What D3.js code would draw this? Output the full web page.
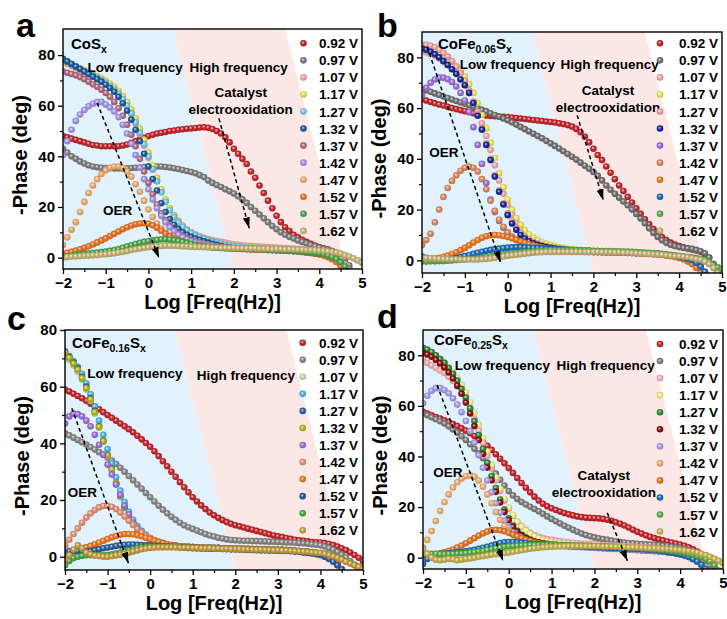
<!DOCTYPE html>
<html>
<head>
<meta charset="utf-8">
<script src="https://cdn.jsdelivr.net/npm/d3@7"></script>
<style>
  body { margin: 0; background: #fff; }
  text { font-family: Arial, "Liberation Sans", sans-serif; font-weight: bold; fill: #000; }
</style>
</head>
<body>
<svg id="fig" width="727" height="619"></svg>
<script>
// log10 of frequency (Hz) for every measured point, 10 points per decade
var logFreq = [-2,-1.9,-1.8,-1.7,-1.6,-1.5,-1.4,-1.3,-1.2,-1.1,
  -1,-0.9,-0.8,-0.7,-0.6,-0.5,-0.4,-0.3,-0.2,-0.1,
  0,0.1,0.2,0.3,0.4,0.5,0.6,0.7,0.8,0.9,
  1,1.1,1.2,1.3,1.4,1.5,1.6,1.7,1.8,1.9,
  2,2.1,2.2,2.3,2.4,2.5,2.6,2.7,2.8,2.9,
  3,3.1,3.2,3.3,3.4,3.5,3.6,3.7,3.8,3.9,
  4,4.1,4.2,4.3,4.4,4.5,4.6,4.7,4.8,4.9,5];

var voltages = ["0.92 V","0.97 V","1.07 V","1.17 V","1.27 V","1.32 V",
  "1.37 V","1.42 V","1.47 V","1.52 V","1.57 V","1.62 V"];

var colorsA = ["#c8262c","#808080","#f7a7ab","#e8e33c","#79c8f2","#1d5d9c",
  "#b56b83","#a596e8","#f2ad6c","#ee7423","#4aa84a","#c9b775"];
var colorsB = ["#c8262c","#737373","#f7a7ab","#eeea50","#f0a2a2","#1a2a9a",
  "#a070dd","#e08a5e","#f27a20","#1f6fbf","#5ab048","#c9b47a"];
var colorsC = ["#c8262c","#8a8a8a","#b6e2a0","#4cb7f0","#2e65a8","#b8b818",
  "#a070dd","#e89070","#f27a20","#2e5f9e","#4ea646","#c8a040"];
var colorsD = ["#c8262c","#808080","#f7b2b6","#f6f08a","#2e8b3e","#8c1010",
  "#a79cf0","#f2b070","#e67828","#1f6fbf","#5ab048","#c9b455"];

// -Phase (deg), one row per voltage, same order as voltages
// (a) CoSx
var phaseA = [
  [48,47.5,47,46.5,46,45.5,45,44.5,44.3,44, 44,44,44,44,44.3,44.7,45.3,46,46.7,47.3,
   48,48.5,49,49.3,49.6,50,50.2,50.5,50.7,50.9, 51,51.2,51.4,51.5,51.3,50.8,50,49,47.5,45.5,
   43,41,39,37,34,31.5,28.5,25.5,22.5,19.5, 16.5,14,12,10.5,9,8,7,6.2,5.5,4.8,
   4.2,3.7,3.2,2.6,1.8,0.8,-1,-4,-8],
  [43,41.5,40,39,38,37.2,36.5,36,35.7,35.5, 35.4,35.3,35.2,35.2,35.2,35.3,35.4,35.5,35.6,35.8,
   36,36,36,36,35.8,35.6,35.3,35,34.6,34.2, 33.8,33.3,32.6,31.8,30.5,29.5,28.7,27.9,27,26.2,
   25.3,24.2,23,21.6,20,18.5,17,15.5,14,12.5, 11.2,10,9,8.2,7.5,6.8,6.2,5.6,5,4.5,
   4,3.6,3.2,2.6,1.8,0.8,-0.5,-3,-7],
  [77.5,76.6,75.7,74.8,74,73.2,72.4,71.6,70.8,69.8, 68.8,67.6,66.2,64.5,62.4,59.8,56.7,53,48.7,44.2,
   39.4,34.7,30.2,26.2,22.6,19.4,16.7,14.5,12.7,11.2, 10,9.1,8.4,7.8,7.3,6.9,6.5,6.2,5.9,5.6,
   5.3,5.1,4.9,4.7,4.6,4.5,4.4,4.3,4.2,4.1, 4,3.9,3.8,3.7,3.6,3.5,3.3,3.2,3,2.8,
   2.5,2.2,1.8,1.2,0.4,-0.8,-2.6,-5,-8],
  [78,77.2,76.4,75.6,74.8,74,73.2,72.4,71.6,70.8, 69.8,68.7,67.4,65.8,63.8,61.4,58.5,55,51,46.5,
   41.5,36.5,31.5,27,23,19.5,16.6,14.2,12.4,11, 9.9,9,8.2,7.6,7,6.5,6.1,5.7,5.4,5.1,
   4.8,4.6,4.4,4.2,4.1,4,3.9,3.8,3.7,3.6, 3.5,3.4,3.3,3.2,3.1,3,2.9,2.7,2.5,2.3,
   2.1,1.8,1.4,0.8,0,-1.2,-3,-5.5,-9],
  [78.3,77.4,76.5,75.6,74.7,73.8,72.9,72,71.1,70.1, 69,67.8,66.4,64.7,62.6,60,57,53.4,49.3,44.8,
   40,35,30.2,25.8,22,18.7,16,13.8,12.1,10.8, 9.7,8.8,8,7.4,6.8,6.3,5.9,5.5,5.2,4.9,
   4.6,4.4,4.2,4,3.9,3.8,3.7,3.6,3.5,3.4, 3.3,3.2,3.1,3,2.9,2.8,2.6,2.4,2.2,2,
   1.8,1.5,1.1,0.5,-0.3,-1.5,-3.2,-5.7,-9],
  [78.5,77.5,76.5,75.5,74.5,73.5,72.5,71.5,70.5,69.5, 68.3,67,65.5,63.5,61,58,54.5,50.5,46,41,
   36,31,26.5,21.5,18,15.2,13,11.3,10,9, 8.2,7.5,7,6.4,5.9,5.5,5.1,4.7,4.3,4,
   3.8,3.6,3.5,3.4,3.3,3.2,3.1,3.1,3,3, 2.9,2.9,2.8,2.7,2.6,2.5,2.3,2.1,1.9,1.7,
   1.5,1.2,0.7,0,-1,-2.5,-4.5,-7],
  [73.5,73,72.5,72,71.3,70.5,69.5,68.5,67.5,66.3, 65,63.5,61.5,59,56,52.5,48.5,44,39,34,
   29.5,25,21,17.5,14.8,12.5,10.8,9.5,8.5,7.7, 7,6.4,5.9,5.5,5.1,4.8,4.5,4.3,4.1,3.9,
   3.7,3.6,3.5,3.4,3.3,3.2,3.1,3.1,3,3, 2.9,2.8,2.7,2.6,2.5,2.4,2.2,2,1.8,1.6,
   1.4,1.1,0.6,-0.1,-1.1,-2.6,-4.6,-7],
  [40.5,46,50.5,54,56.5,58.3,59.8,60.8,61.4,61.5, 60.5,59.3,57.7,55.5,52.5,49,45,40.5,35.5,31,
   27,23,19.5,16.5,14,12,10.4,9.1,8,7.2, 6.5,6,5.6,5.2,4.9,4.6,4.4,4.2,4,3.9,
   3.8,3.7,3.5,3.4,3.3,3.2,3.1,3,3,2.9, 2.9,2.8,2.7,2.6,2.5,2.4,2.2,2,1.8,1.6,
   1.4,1.1,0.6,-0.1,-1.1,-2.6,-4.6,-7],
  [5,8,11,14,18,22,25.5,28.5,31,33, 34.5,35.5,36,36,35.5,34,32,29,26,22.5,
   19,16,13.5,11.5,9.8,8.5,7.5,6.7,6.1,5.6, 5.2,4.9,4.6,4.4,4.2,4,3.9,3.8,3.7,3.6,
   3.5,3.4,3.4,3.3,3.3,3.2,3.2,3.1,3.1,3, 3,2.9,2.8,2.7,2.6,2.5,2.3,2.1,1.9,1.7,
   1.5,1.2,0.8,0.2,-0.7,-2,-3.8,-6.2],
  [1.5,1.9,2.3,2.8,3.3,3.9,4.5,5.2,6,6.8, 7.6,8.5,9.4,10.3,11.2,12,12.7,13.2,13.5,13.6,
   13.4,12.8,11.8,10.6,9.5,8.5,7.6,6.9,6.3,5.8, 5.4,5,4.7,4.5,4.3,4.1,4,3.9,3.8,3.7,
   3.6,3.5,3.4,3.4,3.3,3.3,3.2,3.2,3.1,3.1, 3,2.9,2.8,2.7,2.6,2.5,2.3,2.1,1.8,1.5,
   1.2,0.8,0.2,-0.6,-1.7,-3.2,-5.2,-8],
  [0.5,0.6,0.8,1,1.2,1.4,1.6,1.8,2,2.2, 2.4,2.7,3,3.4,3.9,4.4,4.9,5.4,5.8,6.2,
   6.5,6.8,7,7.2,7.2,7.1,6.9,6.6,6.2,5.8, 5.4,5,4.7,4.4,4.2,4,3.9,3.8,3.7,3.6,
   3.6,3.5,3.5,3.4,3.4,3.3,3.3,3.2,3.1,3.1, 3,2.9,2.8,2.7,2.6,2.5,2.4,2.2,2,1.8,
   1.6,1.3,0.9,0.3,-0.5,-1.8,-3.5,-6],
  [0,0.2,0.4,0.5,0.6,0.7,0.8,0.9,1,1.2, 1.3,1.5,1.7,2,2.3,2.6,3,3.3,3.6,3.9,
   4.1,4.3,4.5,4.6,4.7,4.7,4.7,4.6,4.5,4.4, 4.3,4.2,4.2,4.1,4.1,4,4,3.9,3.9,3.8,
   3.8,3.7,3.7,3.6,3.6,3.6,3.5,3.5,3.5,3.4, 3.4,3.4,3.3,3.3,3.2,3.2,3.1,3,3,2.9,
   2.8,2.7,2.5,2.3,2,1.6,1,0.4,-0.3,-1.1,-2]
];

// (b) CoFe0.06Sx
var phaseB = [
  [63.5,63,62.4,61.9,61.4,61,60.5,60,59.6,59.2, 58.8,58.4,58,57.7,57.4,57.1,56.9,56.8,56.7,56.6,
   56.5,56.3,56.1,55.9,55.7,55.5,55.3,55.1,54.9,54.7, 54.5,54.3,54,53.7,53.3,52.7,51.8,50.5,48.7,46.5,
   44,41.5,39.5,37,34.5,32,29.5,27.3,25,22.8, 20.5,18.3,16.2,14.2,12.3,10.7,9.2,8,7,6.2,
   5.6,5.1,4.7,4.3,3.9,3.4,2.4,1,-1.5,-5,-9],
  [67.5,67,66.4,65.8,65.2,64.6,64,63.4,62.8,62.2, 61.7,61.1,60.5,59.9,59.3,58.7,58,57.3,56.6,55.9,
   55.2,54.4,53.5,52.6,51.7,50.8,49.9,49,48.1,47.1, 46.1,45.1,44.1,43,41.9,40.8,39.7,38.5,37.3,36.1,
   34.8,33.3,31.5,29.5,27.8,26.2,24.7,23.2,21.7,20, 18.3,16.5,14.6,12.6,10.8,9.2,7.9,6.9,6.1,5.6,
   5.2,4.9,4.7,4.5,4.1,3.6,2.8,1.2,-1.5,-5,-9],
  [82.5,82,81.4,80.6,79.6,78.4,77,75.4,73.6,71.5, 69,66,62.5,58.5,54,49,43.5,37.5,31.5,26.3,
   21.8,18,15,12.5,10.6,9.1,8,7.1,6.4,5.9, 5.5,5.1,4.8,4.5,4.3,4.1,3.9,3.8,3.7,3.6,
   3.5,3.4,3.4,3.3,3.3,3.2,3.2,3.1,3.1,3, 3,2.9,2.8,2.7,2.6,2.5,2.3,2.1,1.9,1.7,
   1.4,1.1,0.6,-0.1,-1.1,-2.6,-4.6,-7],
  [84,83.6,83.2,82.6,81.8,80.8,79.6,78.2,76.6,74.8, 72.5,69.5,66,62,57.3,52,46.3,40.3,34.3,28.8,
   24,20,16.7,14,11.9,10.2,8.9,7.9,7.1,6.5, 6,5.5,5.1,4.8,4.5,4.3,4.1,4,3.9,3.8,
   3.7,3.6,3.5,3.5,3.4,3.4,3.3,3.3,3.2,3.2, 3.1,3,2.9,2.8,2.7,2.6,2.4,2.2,2,1.8,
   1.5,1.2,0.7,0,-1,-2.5,-4.5,-7],
  [85,85,84.6,84,83,81.8,80.3,78.5,76.3,73.8, 70.8,67,62.5,57.5,52,46,40,33.5,27.5,22.5,
   18.5,15.3,12.8,10.9,9.4,8.2,7.3,6.6,6,5.5, 5.1,4.8,4.5,4.3,4.1,3.9,3.8,3.7,3.6,3.5,
   3.4,3.4,3.3,3.3,3.2,3.2,3.1,3.1,3,3, 2.9,2.9,2.8,2.7,2.6,2.5,2.3,2.1,1.9,1.7,
   1.4,1.1,0.6,-0.1,-1.1,-2.6,-4.6,-7],
  [83.5,83,82.2,81.2,80,78.5,77,75.3,73.5,71.3, 69,66,62,57,51.5,45.5,39.5,33,27,22,
   17.8,14.5,12,10,8.6,7.5,6.7,6.1,5.6,5.2, 4.9,4.6,4.4,4.2,4,3.9,3.8,3.7,3.6,3.5,
   3.4,3.4,3.3,3.3,3.2,3.2,3.1,3.1,3,3, 2.9,2.9,2.8,2.7,2.6,2.5,2.3,2.1,1.9,1.7,
   1.4,1.1,0.6,-0.1,-1.1,-2.6,-4.6,-7],
  [65,68,70,71.3,72,72,71.4,70.3,68.5,66, 63,58.5,52.5,45.5,38,30.5,24,19,15.5,12.8,
   10.8,9.3,8.1,7.2,6.5,6,5.5,5.1,4.8,4.5, 4.3,4.1,3.9,3.8,3.7,3.6,3.5,3.4,3.3,3.3,
   3.2,3.2,3.1,3.1,3.1,3,3,3,2.9,2.9, 2.8,2.8,2.7,2.6,2.5,2.4,2.2,2,1.8,1.6,
   1.3,1,0.5,-0.2,-1.2,-2.7,-4.7,-7],
  [6,8,10.5,15,20,25,28.5,31.3,33.5,35.3, 36.5,37,36.5,35,32,28,23.5,19.5,16,13.2,
   11,9.3,8,7,6.2,5.6,5.1,4.7,4.4,4.2, 4,3.9,3.8,3.7,3.6,3.5,3.5,3.4,3.4,3.3,
   3.3,3.2,3.2,3.1,3.1,3.1,3,3,2.9,2.9, 2.8,2.8,2.7,2.6,2.5,2.4,2.2,2,1.8,1.6,
   1.3,1,0.5,-0.2,-1.2,-2.7,-4.7,-7],
  [0,0.2,0.4,0.7,1,1.4,1.9,2.5,3.2,4, 4.9,5.9,7,8,8.9,9.5,9.9,10,9.9,9.6,
   9.2,8.7,8.1,7.5,6.9,6.3,5.8,5.4,5,4.7, 4.4,4.2,4,3.9,3.8,3.7,3.6,3.5,3.5,3.4,
   3.4,3.3,3.3,3.2,3.2,3.1,3.1,3,3,2.9, 2.8,2.7,2.6,2.5,2.4,2.3,2.1,1.9,1.6,1.3,
   0.9,0.4,-0.5,-1.5,-3,-5,-8],
  [1.5,1,0.5,0.2,0,0,0.2,0.5,0.9,1.3, 1.7,2.1,2.6,3,3.4,3.8,4.1,4.4,4.6,4.8,
   5,5.1,5.2,5.2,5.1,5,4.9,4.8,4.7,4.6, 4.5,4.4,4.3,4.2,4.1,4,3.9,3.8,3.7,3.7,
   3.6,3.6,3.5,3.5,3.4,3.4,3.3,3.3,3.2,3.2, 3.1,3,2.9,2.8,2.7,2.6,2.4,2.2,2,1.8,
   1.5,1.1,0.6,0,-1,-2.5,-4.5,-7],
  [-0.5,-0.5,-0.4,-0.4,-0.3,-0.3,-0.2,-0.1,0.1,0.2, 0.3,0.5,0.6,0.8,1,1.2,1.5,1.8,2,2.3,
   2.5,2.7,2.9,3.1,3.3,3.5,3.6,3.7,3.8,3.9, 4,4,4,4,4,4,4,3.9,3.9,3.9,
   3.8,3.8,3.7,3.7,3.7,3.6,3.6,3.5,3.5,3.4, 3.3,3.2,3.1,3,2.9,2.8,2.6,2.4,2.2,2,
   1.8,1.6,1.4,1.2,0.9,0.6,0.2,-0.6,-1.8,-2.8,-3.5],
  [1,0.9,0.8,0.7,0.6,0.5,0.5,0.4,0.4,0.3, 0.3,0.3,0.3,0.3,0.4,0.5,0.7,1,1.3,1.5,
   1.8,2,2.2,2.4,2.6,2.8,3,3.1,3.2,3.3, 3.3,3.3,3.3,3.3,3.3,3.3,3.3,3.3,3.3,3.3,
   3.3,3.3,3.2,3.2,3.2,3.1,3.1,3,3,2.9, 2.8,2.7,2.6,2.5,2.4,2.3,2.2,2,1.8,1.7,
   1.6,1.4,1.2,0.9,0.5,0.2,-0.5,-1.5,-3,-5]
];

// (c) CoFe0.16Sx
var phaseC = [
  [59,58.3,57.5,56.7,55.9,55,54,53,52,51, 50,49,48,47,46,45,43.9,42.7,41.4,40.1,
   38.8,37.2,35.5,33.7,31.9,30,28.2,26.3,24.5,22.7, 21,19.5,18.1,16.8,15.6,14.6,13.7,12.9,12.2,11.6,
   11.1,10.7,10.3,9.9,9.5,9.1,8.7,8.3,7.9,7.5, 7.2,6.9,6.6,6.3,6,5.8,5.6,5.4,5.2,5.1,
   5,4.8,4.5,4.1,3.6,3,2.3,1.5,0.6,-0.4,-1.5],
  [43.5,42.8,42,41.2,40.4,39.6,38.7,37.8,36.9,36, 35,33.9,32.7,31.4,30,28.5,27,25.5,24,22.5,
   21,19.5,18,16.6,15.3,14.1,13,12,11.1,10.4, 9.8,9.2,8.6,8,7.5,7.1,6.7,6.4,6.1,5.9,
   5.8,5.7,5.6,5.6,5.5,5.5,5.4,5.4,5.3,5.3, 5.2,5.1,5,5,4.9,4.8,4.7,4.6,4.4,4.2,
   4,3.6,3.1,2.5,1.7,0.8,-0.3,-1.5,-2.8,-4.2,-5.5],
  [71.5,69.5,67.5,65.3,62.5,59,55,50.5,45.5,40.5, 35.5,30.5,25.5,21,17.2,14,11.6,9.7,8.2,7,
   6.1,5.4,4.9,4.5,4.2,3.9,3.7,3.6,3.5,3.4, 3.3,3.2,3.2,3.1,3.1,3,3,2.9,2.9,2.9,
   2.8,2.8,2.7,2.7,2.6,2.6,2.5,2.5,2.4,2.4, 2.3,2.3,2.2,2.1,2,1.9,1.7,1.5,1.3,1.1,
   0.8,0.3,-0.4,-1.4,-2.8,-4.5,-7],
  [72.4,70.8,69,67,64.5,61.2,57.3,53,48,43, 38,33,28,23.3,19.3,15.8,13,10.8,9.1,7.7,
   6.6,5.8,5.2,4.8,4.4,4.1,3.9,3.7,3.6,3.5, 3.4,3.3,3.3,3.2,3.2,3.1,3.1,3,3,3,
   2.9,2.9,2.8,2.8,2.7,2.7,2.6,2.6,2.5,2.5, 2.4,2.4,2.3,2.2,2.1,2,1.8,1.6,1.4,1.2,
   0.9,0.4,-0.3,-1.3,-2.7,-4.5,-7],
  [72.4,70.5,68.5,66.5,63.5,60,56,51.5,46,41, 36,31,26,21.5,17.5,14.3,11.8,9.8,8.3,7.1,
   6.2,5.5,5,4.6,4.3,4,3.8,3.7,3.6,3.5, 3.4,3.3,3.3,3.2,3.2,3.1,3.1,3,3,3,
   2.9,2.9,2.8,2.8,2.7,2.7,2.6,2.6,2.5,2.5, 2.4,2.4,2.3,2.2,2.1,2,1.8,1.6,1.4,1.2,
   0.9,0.4,-0.3,-1.3,-2.7,-4.5,-7],
  [72,70.2,68.2,66,63,59.5,55.5,51,45.8,40.8, 35.8,30.8,26,21.5,17.6,14.4,11.9,9.9,8.4,7.2,
   6.3,5.6,5.1,4.7,4.3,4,3.8,3.7,3.6,3.5, 3.4,3.3,3.3,3.2,3.2,3.1,3.1,3,3,3,
   2.9,2.9,2.8,2.8,2.7,2.7,2.6,2.6,2.5,2.5, 2.4,2.4,2.3,2.2,2.1,2,1.8,1.6,1.4,1.2,
   0.9,0.4,-0.3,-1.3,-2.7,-4.5,-7],
  [47,49.5,50.5,50.3,49.5,48,46,43,39.5,36, 32.5,29,25.5,21.8,18,15,12,9.8,8,6.7,
   5.7,5,4.5,4.1,3.8,3.6,3.4,3.3,3.2,3.1, 3,3,2.9,2.9,2.9,2.8,2.8,2.8,2.7,2.7,
   2.7,2.6,2.6,2.6,2.5,2.5,2.5,2.4,2.4,2.3, 2.3,2.2,2.2,2.1,2,1.9,1.7,1.5,1.3,1.1,
   0.8,0.3,-0.4,-1.4,-2.8,-4.5,-7],
  [4,6,8,10,12,13.8,15.3,16.5,17.4,17.9, 18,17.6,16.8,15.6,14.2,12.7,11.2,9.8,8.6,7.5,
   6.6,5.9,5.3,4.8,4.4,4.1,3.9,3.7,3.6,3.5, 3.4,3.3,3.2,3.2,3.1,3.1,3,3,2.9,2.9,
   2.8,2.8,2.7,2.7,2.6,2.6,2.5,2.5,2.4,2.4, 2.4,2.3,2.3,2.2,2.1,2,1.8,1.6,1.4,1.2,
   0.9,0.4,-0.3,-1.3,-2.7,-4.5,-7],
  [1,1.4,1.8,2.3,2.8,3.3,3.8,4.4,5,5.6, 6.2,6.8,7.3,7.7,8,8,7.9,7.6,7.2,6.7,
   6.2,5.7,5.2,4.8,4.4,4.1,3.9,3.7,3.5,3.4, 3.3,3.2,3.1,3,2.9,2.9,2.8,2.7,2.7,2.6,
   2.6,2.5,2.5,2.4,2.4,2.3,2.3,2.3,2.2,2.2, 2.2,2.1,2.1,2,1.9,1.8,1.6,1.4,1.2,1,
   0.6,0.1,-0.5,-1.5,-3,-5,-7.5],
  [1.5,2,2.2,2,1.8,1.8,2,2.3,2.6,3, 3.2,3.5,3.8,4,4.2,4.3,4.3,4.2,4.1,4,
   3.9,3.8,3.8,3.7,3.7,3.6,3.5,3.4,3.3,3.2, 3.2,3.1,3,3,2.9,2.9,2.8,2.8,2.7,2.7,
   2.6,2.6,2.5,2.5,2.4,2.4,2.3,2.3,2.2,2.2, 2.1,2,2,1.9,1.8,1.7,1.5,1.3,1.1,0.9,
   0.6,0,-0.8,-1.8,-3,-4.5,-6.5],
  [-3,-1.5,-0.5,0,0.3,0.5,0.5,0.5,0.5,0.5, 0.6,0.8,1.1,1.5,1.9,2.3,2.7,3,3.3,3.5,
   3.6,3.6,3.6,3.6,3.5,3.5,3.4,3.3,3.2,3.1, 3.1,3,3,2.9,2.9,2.8,2.8,2.7,2.7,2.6,
   2.6,2.6,2.5,2.5,2.5,2.5,2.4,2.4,2.4,2.3, 2.3,2.3,2.2,2.2,2.1,2,1.9,1.8,1.6,1.5,
   1.3,1,0.7,0.2,-0.3,-0.9,-1.7,-2.3,-3,-3.5,-4],
  [-1,0.5,2.5,4,3,1.5,0.8,0.4,0.2,0, 0,0.2,0.4,0.7,1,1.4,1.8,2.2,2.6,2.9,
   3.1,3.2,3.3,3.3,3.3,3.3,3.3,3.2,3.2,3.2, 3.1,3.1,3,3,3,2.9,2.9,2.8,2.8,2.7,
   2.7,2.7,2.6,2.6,2.5,2.5,2.5,2.4,2.4,2.3, 2.3,2.2,2.2,2.1,2,1.9,1.8,1.7,1.5,1.4,
   1.3,1,0.6,0.1,-0.4,-1,-1.7,-2.4,-3,-3.6,-4.2]
];

// (d) CoFe0.25Sx
var phaseD = [
  [57.7,57,56.3,55.6,55,54.3,53.6,52.8,52,51.1, 50.2,49.2,48.1,46.9,45.6,44.2,42.6,40.9,39.1,37.3,
   35.4,33.5,31.5,29.5,27.6,25.8,24.1,22.6,21.3,20.3, 19.5,18.8,18.2,17.6,17.1,16.7,16.3,16,15.8,15.7,
   15.6,15.5,15.3,15,14.6,14,13.4,12.7,11.9,11, 10.2,9.5,8.8,8.2,7.7,7.2,6.8,6.4,6,5.6,
   5.2,4.7,4.1,3.3,2.4,1.3,0,-1.7,-4,-7],
  [57,56.3,55.5,54.7,53.9,53,51.9,50.7,49.4,48, 46.5,44.8,43,41.2,39.3,37.5,35.5,33.2,30.8,28.5,
   26.3,24.6,23.2,22,21,20.1,19.2,18.3,17.3,16.3, 15.3,14.4,13.5,12.6,11.8,11,10.2,9.5,8.9,8.4,
   8,7.6,7.3,7,6.7,6.4,6.2,6,5.8,5.7, 5.5,5.4,5.3,5.2,5.1,5,4.8,4.6,4.4,4.1,
   3.8,3.4,2.9,2.2,1.3,0.2,-1.2,-3,-5.5],
  [78,77,76,75,74,73,71.5,69.8,67.7,65.2, 62.3,58.8,54.8,50.2,45.3,40.2,35.2,30.5,26.3,22.5,
   19.3,16.6,14.3,12.5,11,9.8,8.9,8.2,7.7,7.3, 7,6.7,6.5,6.3,6.1,5.9,5.7,5.6,5.5,5.4,
   5.3,5.2,5.1,5,4.9,4.8,4.7,4.6,4.5,4.4, 4.3,4.2,4.1,4,3.9,3.7,3.5,3.3,3.1,2.9,
   2.6,2.2,1.6,0.8,-0.3,-1.8,-3.8,-6.5],
  [82,81.4,80.6,79.6,78.4,77,75.3,73.3,71,68.3, 65.2,61.5,57.2,52.5,47.3,42,36.8,31.8,27.3,23.3,
   19.8,16.8,14.3,12.3,10.7,9.4,8.4,7.6,7,6.5, 6.1,5.8,5.5,5.3,5.1,4.9,4.8,4.7,4.6,4.5,
   4.4,4.3,4.2,4.1,4,3.9,3.8,3.7,3.6,3.5, 3.4,3.3,3.2,3.1,3,2.9,2.7,2.5,2.3,2.1,
   1.8,1.4,0.8,0,-1.1,-2.6,-4.6,-7],
  [83,82.3,81.3,80,78.5,77,75,72.7,70,66.8, 63.3,59,54,48.5,43,37.5,32.3,27.5,23,19,
   15.5,12.7,10.6,9,7.9,7.1,6.5,6.1,5.8,5.5, 5.3,5.1,4.9,4.8,4.7,4.6,4.5,4.4,4.3,4.2,
   4.1,4,3.9,3.8,3.7,3.6,3.5,3.4,3.3,3.2, 3.1,3,2.9,2.8,2.7,2.6,2.4,2.2,2,1.8,
   1.5,1.1,0.5,-0.3,-1.4,-2.9,-4.9,-7.5],
  [81,80.3,79.4,78.2,76.8,75.2,73.2,70.8,68,64.8, 61.3,57,52,46.5,41,35.6,30.6,26,21.8,18,
   14.8,12.2,10.2,8.8,7.7,6.9,6.4,6,5.7,5.4, 5.2,5,4.8,4.7,4.6,4.5,4.4,4.3,4.2,4.1,
   4,3.9,3.8,3.7,3.6,3.5,3.4,3.3,3.2,3.1, 3,2.9,2.8,2.7,2.6,2.5,2.3,2.1,1.9,1.7,
   1.4,1,0.4,-0.4,-1.5,-3,-5,-7.5],
  [61,64,66,67,67,66.3,65,63,60.5,57.5, 54,50,45.5,40.5,35.5,30.5,25.8,21.5,17.8,14.6,
   12,10,8.5,7.4,6.6,6,5.6,5.3,5.1,4.9, 4.8,4.7,4.6,4.5,4.4,4.3,4.2,4.1,4,3.9,
   3.8,3.7,3.6,3.5,3.4,3.4,3.3,3.2,3.1,3, 2.9,2.8,2.7,2.6,2.5,2.4,2.2,2,1.8,1.6,
   1.3,0.9,0.3,-0.5,-1.6,-3.1,-5.1,-7.5],
  [4,7,10.5,14.5,18.5,22,25,27.7,29.8,31.3, 32.2,32.5,32,30.5,28,25,21.5,18,15,12.5,
   10.5,9,8,7.2,6.6,6.2,5.9,5.6,5.4,5.3, 5.2,5.1,5,4.9,4.8,4.8,4.7,4.7,4.6,4.6,
   4.5,4.5,4.4,4.4,4.3,4.2,4.1,4,3.9,3.8, 3.7,3.6,3.5,3.4,3.3,3.2,3,2.8,2.6,2.4,
   2.1,1.7,1.1,0.3,-0.8,-2.3,-4.3,-7],
  [1,1,1.2,1.4,1.7,2.1,2.6,3.2,4,4.8, 5.7,6.7,7.7,8.7,9.6,10.3,10.8,11,10.8,10.4,
   9.8,9.1,8.4,7.7,7.1,6.6,6.1,5.7,5.4,5.2, 5,4.9,4.8,4.7,4.6,4.6,4.5,4.4,4.4,4.3,
   4.3,4.2,4.1,4,3.9,3.9,3.8,3.7,3.6,3.6, 3.5,3.4,3.3,3.2,3,2.9,2.7,2.5,2.3,2,
   1.8,1.3,0.7,0,-1.1,-2.5,-4.5,-7],
  [-2.5,-0.5,1,1.3,1.5,1.6,1.7,1.9,2.1,2.3, 2.5,2.8,3.1,3.5,3.9,4.3,4.8,5.3,5.8,6.1,
   6.2,6.2,6.1,6,5.8,5.6,5.5,5.3,5.2,5.1, 5,4.9,4.8,4.7,4.6,4.5,4.4,4.4,4.3,4.2,
   4.2,4.1,4,3.9,3.8,3.8,3.7,3.6,3.5,3.5, 3.4,3.3,3.2,3.1,2.9,2.8,2.5,2.2,1.9,1.6,
   1.3,0.8,0.2,-0.6,-1.5,-2.8,-4.5,-6.5],
  [1.5,1.5,1.5,1.5,1.4,1.4,1.4,1.5,1.6,1.7, 1.8,2,2.2,2.4,2.6,3,3.3,3.7,4,4.3,
   4.5,4.6,4.7,4.8,4.9,5,5,5,5,5, 5,5,4.9,4.9,4.9,4.8,4.8,4.8,4.7,4.7,
   4.6,4.5,4.5,4.4,4.3,4.2,4.1,4,3.9,3.9, 3.8,3.7,3.6,3.5,3.3,3.2,3,2.8,2.6,2.4,
   2.2,1.9,1.5,1.2,0.7,0.2,-0.5,-1.5,-3,-5],
  [3.5,1.5,0,-0.8,-1,-0.8,-0.5,-0.6,-1,-0.8, -0.5,-0.3,0,0.3,0.6,0.9,1.2,1.4,1.6,1.8,
   2,2.3,2.6,2.9,3.2,3.5,3.7,3.9,4.1,4.2, 4.3,4.4,4.4,4.5,4.5,4.5,4.5,4.5,4.5,4.5,
   4.5,4.5,4.4,4.4,4.4,4.3,4.3,4.2,4.1,4.1, 4,3.9,3.8,3.7,3.7,3.6,3.5,3.4,3.3,3.1,
   3,2.8,2.6,2.3,2,1.5,1,0.3,-0.5,-1.3,-2.2]
];

var xTicks = [-2,-1,0,1,2,3,4,5];
var xMinor = [-1.5,-0.5,0.5,1.5,2.5,3.5,4.5];
var yTicks = [0,20,40,60,80];
var yMinor = [10,30,50,70];

// frequency regions drawn behind the data: [top-left x, top-right x, bottom-right x]
var lowBand = [0.57, 2.0];
var highBand = [0.57, 3.2, 4.63, 2.0];

// layout of the four panels
var panels = [
  { letter: "a", lx: 16, ly: 37, left: 63, top: 29, right: 362, bottom: 269, yDomain: [-4.5, 90.3],
    data: phaseA, colors: colorsA, title: [["CoS", 0], ["x", 1]], tx: 8, ty: 20,
    legX: 303.5, legTextX: 319, legY: 43.3,
    notes: [["Low frequency", -0.31, 73.4], ["High frequency", 2.11, 73.4],
            ["Catalyst", 2.16, 63.6], ["electrooxidation", 2.16, 56.9], ["OER", -0.72, 16.8]],
    arrows: [[-1.2, 61.1, 0.25, -0.2], [1.65, 55, 2.36, 11.6]] },
  { letter: "b", lx: 377, ly: 37, left: 422, top: 32, right: 722, bottom: 273, yDomain: [-5, 90],
    data: phaseB, colors: colorsB, title: [["CoFe", 0], ["0.06", 1], ["S", 0], ["x", 1]], tx: 16, ty: 17,
    legX: 660, legTextX: 679, legY: 43.3,
    notes: [["Low frequency", -0.01, 75.6], ["High frequency", 2.38, 75.6],
            ["Catalyst", 2.34, 65.1], ["electrooxidation", 2.34, 58.5], ["OER", -1.49, 40.8]],
    arrows: [[-1.88, 84.2, -0.17, -0.7], [1.62, 57.2, 2.23, 23.7]] },
  { letter: "c", lx: 7, ly: 330, left: 65, top: 330, right: 363, bottom: 570, yDomain: [-4.7, 80],
    data: phaseC, colors: colorsC, title: [["CoFe", 0], ["0.16", 1], ["S", 0], ["x", 1]], tx: 7, ty: 18,
    legX: 302.7, legTextX: 319, legY: 342.7,
    notes: [["Low frequency", -0.36, 63], ["High frequency", 2.25, 62.4], ["OER", -1.59, 21]],
    arrows: [[-1.84, 52.4, -0.51, -2.3]] },
  { letter: "d", lx: 377, ly: 328, left: 423, top: 330, right: 723, bottom: 569, yDomain: [-4.5, 90],
    data: phaseD, colors: colorsD, title: [["CoFe", 0], ["0.25", 1], ["S", 0], ["x", 1]], tx: 11, ty: 15,
    legX: 660, legTextX: 679, legY: 344,
    notes: [["Low frequency", -0.15, 74.3], ["High frequency", 2.26, 74.1],
            ["Catalyst", 2.22, 30.6], ["electrooxidation", 2.22, 23.9], ["OER", -1.42, 31.7]],
    arrows: [[-1.67, 68.2, -0.13, -1.3], [2.3, 17.7, 2.77, -1.3]] }
];

var svg = d3.select("#fig");
var defs = svg.append("defs");

defs.append("marker")
  .attr("id", "arrowHead")
  .attr("markerUnits", "userSpaceOnUse")
  .attr("markerWidth", 11).attr("markerHeight", 8)
  .attr("refX", 11).attr("refY", 4)
  .attr("orient", "auto")
  .append("path").attr("d", "M0,0.5 L11,4 L0,7.5 Z").attr("fill", "#000");

// shiny ball look for the markers
function ballGradient(id, color) {
  var g = defs.append("radialGradient").attr("id", id)
    .attr("cx", "50%").attr("cy", "50%").attr("r", "55%")
    .attr("fx", "40%").attr("fy", "35%");
  g.append("stop").attr("offset", "0%").attr("stop-color", d3.interpolateRgb(color, "#fff")(0.8));
  g.append("stop").attr("offset", "45%").attr("stop-color", color);
  g.append("stop").attr("offset", "100%").attr("stop-color", d3.color(color).darker(0.7));
}

var intFormat = d3.format("d");

panels.forEach(function(p, pi) {
  var x = d3.scaleLinear().domain([-2, 5]).range([p.left, p.right]);
  var y = d3.scaleLinear().domain(p.yDomain).range([p.bottom, p.top]);
  var yTop = p.yDomain[1], yBot = p.yDomain[0];

  var g = svg.append("g");
  var clipId = "clip" + pi;
  defs.append("clipPath").attr("id", clipId)
    .append("rect").attr("x", p.left).attr("y", p.top)
    .attr("width", p.right - p.left).attr("height", p.bottom - p.top);

  var plot = g.append("g").attr("clip-path", "url(#" + clipId + ")");

  // shaded regions
  var poly = d3.line().x(function(d) { return x(d[0]); }).y(function(d) { return y(d[1]); });
  plot.append("path")
    .attr("d", poly([[-2, yTop], [lowBand[0], yTop], [lowBand[1], yBot], [-2, yBot]]) + "Z")
    .attr("fill", "#e2f2fc");
  plot.append("path")
    .attr("d", poly([[highBand[0], yTop], [highBand[1], yTop], [highBand[2], yBot], [highBand[3], yBot]]) + "Z")
    .attr("fill", "#fbe8e6");

  // data series
  p.data.forEach(function(series, si) {
    var gid = "ball" + pi + "_" + si;
    ballGradient(gid, p.colors[si]);
    plot.append("g").selectAll("circle")
      .data(series.map(function(v, i) { return [logFreq[i], v]; }))
      .join("circle")
      .attr("cx", function(d) { return x(d[0]); })
      .attr("cy", function(d) { return y(d[1]); })
      .attr("r", 3.3)
      .attr("fill", "url(#" + gid + ")");
  });

  // axes
  g.append("g").attr("transform", "translate(0," + p.bottom + ")")
    .call(d3.axisBottom(x).tickValues(xTicks).tickFormat(intFormat).tickSize(5).tickPadding(3))
    .call(function(a) {
      a.select(".domain").remove();
      a.selectAll("line").attr("stroke-width", 1.3);
      a.selectAll("text").attr("font-size", 15);
    });
  g.append("g").attr("transform", "translate(0," + p.bottom + ")")
    .call(d3.axisBottom(x).tickValues(xMinor).tickSize(3).tickFormat(""))
    .call(function(a) { a.select(".domain").remove(); a.selectAll("line").attr("stroke-width", 1.2); });
  g.append("g").attr("transform", "translate(" + p.left + ",0)")
    .call(d3.axisLeft(y).tickValues(yTicks).tickFormat(intFormat).tickSize(5).tickPadding(3))
    .call(function(a) {
      a.select(".domain").remove();
      a.selectAll("line").attr("stroke-width", 1.3);
      a.selectAll("text").attr("font-size", 15);
    });
  g.append("g").attr("transform", "translate(" + p.left + ",0)")
    .call(d3.axisLeft(y).tickValues(yMinor).tickSize(3).tickFormat(""))
    .call(function(a) { a.select(".domain").remove(); a.selectAll("line").attr("stroke-width", 1.2); });

  g.append("rect")
    .attr("x", p.left).attr("y", p.top)
    .attr("width", p.right - p.left).attr("height", p.bottom - p.top)
    .attr("fill", "none").attr("stroke", "#000").attr("stroke-width", 1.4);

  // axis titles
  g.append("text")
    .attr("x", (p.left + p.right) / 2).attr("y", p.bottom + 40)
    .attr("text-anchor", "middle").attr("font-size", 20)
    .text("Log [Freq(Hz)]");
  g.append("text")
    .attr("transform", "translate(" + (p.left - 36) + "," + ((p.top + p.bottom) / 2 + 6) + ") rotate(-90)")
    .attr("text-anchor", "middle").attr("font-size", 20)
    .text("-Phase (deg)");

  // panel letter
  g.append("text").attr("x", p.lx).attr("y", p.ly)
    .attr("font-size", 34).text(p.letter);

  // sample name with subscripts
  var t = g.append("text").attr("x", p.left + p.tx).attr("y", p.top + p.ty).attr("font-size", 15);
  p.title.forEach(function(part) {
    t.append("tspan")
      .attr("font-size", part[1] ? 10.5 : 15)
      .attr("dy", part[1] ? 4 : (t.selectAll("tspan").size() > 1 ? -4 : 0))
      .text(part[0]);
  });

  // annotations
  p.notes.forEach(function(n) {
    g.append("text").attr("x", x(n[1])).attr("y", y(n[2]))
      .attr("text-anchor", "middle").attr("font-size", 13.5).text(n[0]);
  });
  p.arrows.forEach(function(a) {
    g.append("line")
      .attr("x1", x(a[0])).attr("y1", y(a[1]))
      .attr("x2", x(a[2])).attr("y2", y(a[3]))
      .attr("stroke", "#000").attr("stroke-width", 1.5)
      .attr("stroke-dasharray", "4,3")
      .attr("marker-end", "url(#arrowHead)");
  });

  // legend
  voltages.forEach(function(v, i) {
    var ry = p.legY + i * 17.05;
    g.append("circle").attr("cx", p.legX).attr("cy", ry).attr("r", 3.3)
      .attr("fill", "url(#ball" + pi + "_" + i + ")");
    g.append("text").attr("x", p.legTextX).attr("y", ry + 5)
      .attr("font-size", 13.5).text(v);
  });
});
</script>
</body>
</html>
